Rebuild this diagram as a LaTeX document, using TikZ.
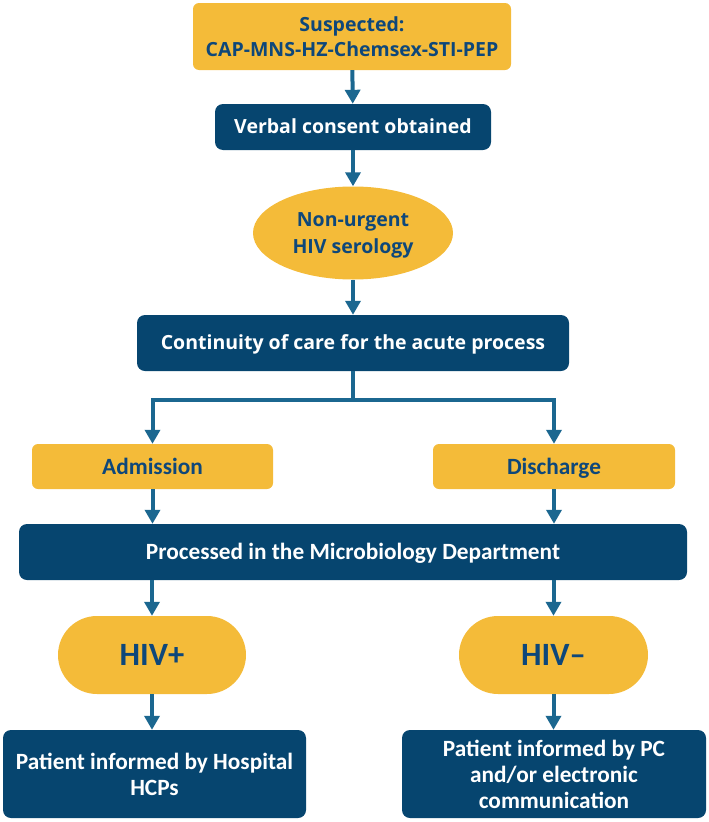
\documentclass[tikz,border=0pt]{standalone}
\usepackage{fontspec}
\setmainfont{Open Sans}
\newfontfamily\narrowfont{Carlito}
\definecolor{FlowYellow}{HTML}{F4BB39}
\definecolor{FlowBlue}{HTML}{06456F}
\definecolor{ArrowBlue}{HTML}{1B6790}
\definecolor{LabelBlue}{HTML}{0E477A}
\usetikzlibrary{arrows.meta, positioning, shapes.geometric, shapes.misc}

\begin{document}
\begin{tikzpicture}[x=1pt, y=-1pt,
  yellow_box/.style={rectangle, rounded corners=6pt, fill=FlowYellow, text=LabelBlue, align=center, inner sep=0pt},
  blue_box/.style={rectangle, rounded corners=8pt, fill=FlowBlue, text=white, align=center, inner sep=0pt},
  one_line/.style={text height=13.9pt, text depth=0pt},
  narrow_line/.style={text height=15pt, text depth=0pt},
  upper_font/.style={font=\fontsize{19.5}{25}\selectfont\bfseries},
  lower_font/.style={font=\narrowfont\fontsize{23.3}{26}\selectfont\bfseries},
  flow_arrow/.style={draw=ArrowBlue, line width=4pt, -{Triangle[length=14pt, width=15pt]}},
]
  \useasboundingbox (0,0) rectangle (709,822);
  % upper part
  \node[yellow_box, upper_font, minimum width=318pt, minimum height=67pt] (susp) at (352,36.5) {Suspected:\\CAP-MNS-HZ-Chemsex-STI-PEP};
  \node[blue_box, upper_font, one_line, minimum width=276pt, minimum height=46pt] (consent) at (353,127) {Verbal consent obtained};
  \node[ellipse, fill=FlowYellow, text=LabelBlue, align=center, inner sep=0pt, minimum width=200pt, minimum height=93pt,
        text height=40.9pt, text depth=0pt, font=\fontsize{19.5}{27}\selectfont\bfseries] (serology) at (353,233) {Non-urgent\\HIV serology};
  \node[blue_box, upper_font, one_line, minimum width=432pt, minimum height=56pt] (care) at (353,343) {Continuity of care for the acute process};
  \coordinate (split) at (353,400);
  % lower part
  \node[yellow_box, lower_font, narrow_line, minimum width=241pt, minimum height=45pt] (admit) at (152.5,466.5) {Admission};
  \node[yellow_box, lower_font, narrow_line, minimum width=242pt, minimum height=45pt] (disch) at (554,466.5) {Discharge};
  \node[blue_box, lower_font, narrow_line, minimum width=668pt, minimum height=56pt] (micro) at (353,552) {Processed in the Microbiology Department};
  \node[rounded rectangle, fill=FlowYellow, text=LabelBlue, inner sep=0pt, minimum width=188pt, minimum height=78pt,
        text height=21pt, text depth=0pt, font=\narrowfont\fontsize{32.5}{32.5}\selectfont\bfseries] (pos) at (152,655) {HIV+};
  \node[rounded rectangle, fill=FlowYellow, text=LabelBlue, inner sep=0pt, minimum width=189pt, minimum height=78pt,
        text height=21pt, text depth=0pt, font=\narrowfont\fontsize{32.5}{32.5}\selectfont\bfseries] (neg) at (553.5,655) {HIV–};
  \node[blue_box, lower_font, minimum width=303pt, minimum height=88pt] (hosp) at (154.5,774) {Patient informed by Hospital\\HCPs};
  \node[blue_box, lower_font, minimum width=304pt, minimum height=88pt] (pc) at (554,774) {Patient informed by PC\\and/or electronic\\communication};
  % connectors
  \draw[flow_arrow] (susp) -- (consent);
  \draw[flow_arrow] (consent) -- (serology);
  \draw[flow_arrow] (serology) -- (care);
  \draw[draw=ArrowBlue, line width=4pt] (care.south) -- (split);
  \draw[flow_arrow] (split) -| (admit.north);
  \draw[flow_arrow] (split) -| (disch.north);
  \draw[flow_arrow] (admit.south) -- (admit.south |- micro.north);
  \draw[flow_arrow] (disch.south) -- (disch.south |- micro.north);
  \draw[flow_arrow] (micro.south -| pos) -- (pos.north);
  \draw[flow_arrow] (micro.south -| neg) -- (neg.north);
  \draw[flow_arrow] (pos.south) -- (pos.south |- hosp.north);
  \draw[flow_arrow] (neg.south) -- (neg.south |- pc.north);
\end{tikzpicture}
\end{document}
